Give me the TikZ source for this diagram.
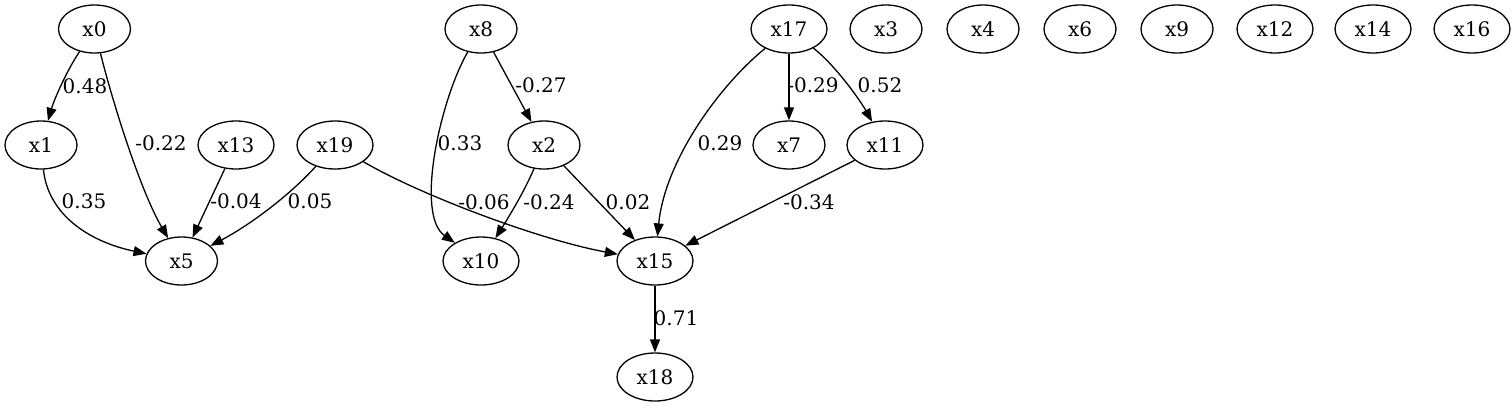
\documentclass[tikz,border=0pt]{standalone}
\usepackage{fontspec}
\setmainfont{DejaVu Serif}
\usetikzlibrary{arrows.meta,shapes.geometric}
\begin{document}
\begin{tikzpicture}[x=1pt,y=-1pt,
  every node/.style={font=\fontsize{20}{22}\selectfont},
  nd/.style={draw,ellipse,line width=1.3pt,minimum width=72pt,minimum height=48pt,inner sep=1pt},
  ndw/.style={nd,minimum width=76pt},
  lbl/.style={inner sep=0pt},
  edge/.style={line width=1.3pt,-{Triangle[length=13pt,width=10pt]}}]
\useasboundingbox (0,0) rectangle (1512,407);
\node[nd] (x0) at (94.5,29) {x0};
\node[nd] (x8) at (481,29) {x8};
\node[ndw] (x17) at (789,29) {x17};
\node[nd] (x3) at (886,29) {x3};
\node[nd] (x4) at (983,29) {x4};
\node[nd] (x6) at (1080,29) {x6};
\node[nd] (x9) at (1177,29) {x9};
\node[ndw] (x12) at (1275,29) {x12};
\node[ndw] (x14) at (1373,29) {x14};
\node[ndw] (x16) at (1472,29) {x16};
\node[nd] (x1) at (41,145) {x1};
\node[ndw] (x13) at (236,145) {x13};
\node[ndw] (x19) at (335,145) {x19};
\node[nd] (x2) at (544,145) {x2};
\node[nd] (x7) at (789,145) {x7};
\node[ndw] (x11) at (885,145) {x11};
\node[nd] (x5) at (181.5,261) {x5};
\node[ndw] (x10) at (481,261) {x10};
\node[ndw] (x15) at (655,261) {x15};
\node[ndw] (x18) at (655,377) {x18};

\draw[edge] (x0) .. controls (66,72) and (54,100) .. (x1);
\draw[edge] (x0) .. controls (112,100) and (140,190) .. (x5);
\draw[edge] (x1) .. controls (48,215) and (90,242) .. (x5);
\draw[edge] (x13) -- (x5);
\draw[edge] (x19) .. controls (290,195) and (250,225) .. (x5);
\draw[edge] (x19) .. controls (420,195) and (540,240) .. (x15);
\draw[edge] (x8) .. controls (440,100) and (415,215) .. (x10);
\draw[edge] (x8) -- (x2);
\draw[edge] (x2) .. controls (525,190) and (510,215) .. (x10);
\draw[edge] (x2) -- (x15);
\draw[edge] (x17) .. controls (720,85) and (665,160) .. (x15);
\draw[edge] (x17) -- (x7);
\draw[edge] (x17) .. controls (835,65) and (860,100) .. (x11);
\draw[edge] (x11) -- (x15);
\draw[edge] (x15) -- (x18);

\node[lbl] (l1) at (85,86) {0.48};
\node[lbl] (l2) at (161,143) {-0.22};
\node[lbl] (l3) at (84,201) {0.35};
\node[lbl] (l4) at (236,201) {-0.04};
\node[lbl] (l5) at (310,201) {0.05};
\node[lbl] (l6) at (460,143) {0.33};
\node[lbl] (l7) at (541,85) {-0.27};
\node[lbl] (l8) at (484,202) {-0.06};
\node[lbl] (l9) at (549,202) {-0.24};
\node[lbl] (l10) at (628,202) {0.02};
\node[lbl] (l11) at (720,143) {0.29};
\node[lbl] (l12) at (813,85) {-0.29};
\node[lbl] (l13) at (880,85) {0.52};
\node[lbl] (l14) at (809,202) {-0.34};
\node[lbl] (l15) at (676,318) {0.71};
\end{tikzpicture}
\end{document}
